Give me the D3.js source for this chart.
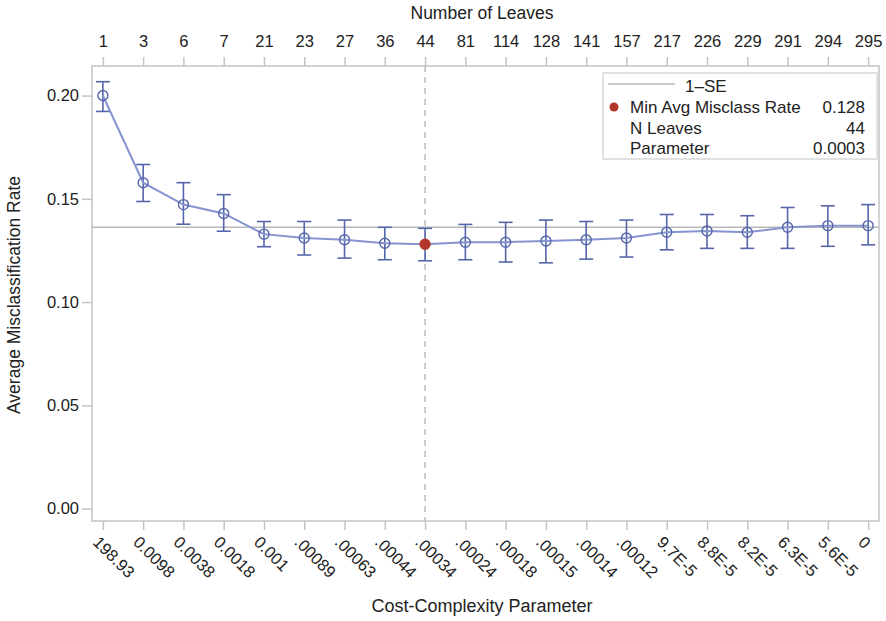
<!DOCTYPE html>
<html>
<head>
<meta charset="utf-8">
<script src="https://cdn.jsdelivr.net/npm/d3@7"></script>
<style>
  body { margin: 0; background: #fff; }
  text { font-family: "Liberation Sans", Arial, sans-serif; fill: #222; }
</style>
</head>
<body>
<div id="chart"></div>
<script>
// chart data
var leaves = ["1","3","6","7","21","23","27","36","44","81","114","128","141","157","217","226","229","291","294","295"];
var params = ["198.93","0.0098","0.0038","0.0018","0.001",".00089",".00063",".00044",".00034",".00024",".00018",".00015",".00014",".00012","9.7E-5","8.8E-5","8.2E-5","6.3E-5","5.6E-5","0"];
var rate  = [0.200,0.1578,0.1472,0.1429,0.1329,0.1310,0.1302,0.1285,0.1280,0.1290,0.1290,0.1296,0.1302,0.1310,0.1338,0.1344,0.1338,0.1362,0.1370,0.1370];
var upper = [0.2067,0.1666,0.1578,0.1520,0.1390,0.1390,0.1397,0.1362,0.1357,0.1376,0.1386,0.1397,0.1390,0.1397,0.1424,0.1424,0.1418,0.1458,0.1466,0.1472];
var lower = [0.1923,0.1487,0.1377,0.1343,0.1268,0.1228,0.1213,0.1205,0.1200,0.1205,0.1194,0.1190,0.1208,0.1218,0.1253,0.1260,0.1260,0.1260,0.1270,0.1277];
var yTicks = [0, 0.05, 0.10, 0.15, 0.20];
var oneSE = 0.1362;
var minIndex = 8;
var legendRows = [["Min Avg Misclass Rate","0.128"],["N Leaves","44"],["Parameter","0.0003"]];

var svgWidth = 886, svgHeight = 621;
var margin = {top: 66, right: 7, bottom: 100, left: 92};
var width = svgWidth - margin.left - margin.right;
var height = svgHeight - margin.top - margin.bottom;

var svg = d3.select("#chart").append("svg")
  .attr("width", svgWidth)
  .attr("height", svgHeight);

var g = svg.append("g")
  .attr("transform", `translate(${margin.left}, ${margin.top})`);

var idx = d3.range(leaves.length);

var x = d3.scalePoint()
  .domain(idx)
  .range([0, width])
  .padding(0.27);

var y = d3.scaleLinear()
  .domain([-0.006, 0.2143])
  .range([height, 0]);

var gridColor = "#c4c4c4";
var blue = "#5566aa";
var tickFont = "16.5px";

// frame
g.append("rect")
  .attr("width", width).attr("height", height)
  .attr("fill", "none").attr("stroke", gridColor).attr("stroke-width", 1.5);

// left axis
var leftAxis = g.append("g")
  .call(d3.axisLeft(y).tickValues(yTicks).tickFormat(d3.format(".2f")).tickSize(10).tickPadding(3));
leftAxis.select(".domain").remove();
leftAxis.selectAll("line").attr("stroke", gridColor).attr("stroke-width", 1.5);
leftAxis.selectAll("text").attr("font-size", tickFont).attr("fill", "#222");

// top axis (number of leaves)
var topAxis = g.append("g")
  .call(d3.axisTop(x).tickFormat(i => leaves[i]).tickSize(9).tickPadding(10));
topAxis.select(".domain").remove();
topAxis.selectAll("line").attr("stroke", gridColor).attr("stroke-width", 1.5);
topAxis.selectAll("text").attr("font-size", tickFont).attr("fill", "#222");

// bottom axis (cost-complexity parameter)
var bottomAxis = g.append("g")
  .attr("transform", `translate(0, ${height})`)
  .call(d3.axisBottom(x).tickFormat(i => params[i]).tickSize(9).tickPadding(0));
bottomAxis.select(".domain").remove();
bottomAxis.selectAll("line").attr("stroke", gridColor).attr("stroke-width", 1.5);
bottomAxis.selectAll("text")
  .attr("font-size", tickFont).attr("fill", "#222")
  .attr("text-anchor", "start")
  .attr("dy", "0")
  .attr("transform", "translate(-5, 16) rotate(45)");

// axis titles
svg.append("text")
  .attr("x", 482).attr("y", 19)
  .attr("text-anchor", "middle").attr("font-size", "17.5px")
  .text("Number of Leaves");

svg.append("text")
  .attr("x", 482).attr("y", 612)
  .attr("text-anchor", "middle").attr("font-size", "18px")
  .text("Cost-Complexity Parameter");

svg.append("text")
  .attr("transform", "translate(20, 295) rotate(-90)")
  .attr("text-anchor", "middle").attr("font-size", "17.5px")
  .text("Average Misclassification Rate");

// 1-SE reference line
g.append("line")
  .attr("x1", 0).attr("x2", width)
  .attr("y1", y(oneSE)).attr("y2", y(oneSE))
  .attr("stroke", "#b8b8b8").attr("stroke-width", 1.5);

// dashed line at min
g.append("line")
  .attr("x1", x(minIndex)).attr("x2", x(minIndex))
  .attr("y1", 0).attr("y2", height)
  .attr("stroke", "#bbbbbb").attr("stroke-width", 1.5)
  .attr("stroke-dasharray", "6,5");

// error bars
var bars = g.selectAll(".err").data(idx).enter().append("g")
  .attr("stroke", blue).attr("stroke-width", 1.6);
bars.append("line")
  .attr("x1", d => x(d)).attr("x2", d => x(d))
  .attr("y1", d => y(upper[d])).attr("y2", d => y(lower[d]));
bars.append("line")
  .attr("x1", d => x(d) - 7).attr("x2", d => x(d) + 7)
  .attr("y1", d => y(upper[d])).attr("y2", d => y(upper[d]));
bars.append("line")
  .attr("x1", d => x(d) - 7).attr("x2", d => x(d) + 7)
  .attr("y1", d => y(lower[d])).attr("y2", d => y(lower[d]));

// connecting line
var line = d3.line()
  .x(d => x(d))
  .y(d => y(rate[d]));

g.append("path")
  .datum(idx)
  .attr("fill", "none")
  .attr("stroke", "#8594d0")
  .attr("stroke-width", 2)
  .attr("d", line);

// markers
g.selectAll(".pt").data(idx).enter().append("circle")
  .attr("cx", d => x(d))
  .attr("cy", d => y(rate[d]))
  .attr("r", 5)
  .attr("fill", d => d === minIndex ? "#b3362b" : "none")
  .attr("stroke", d => d === minIndex ? "#b3362b" : blue)
  .attr("stroke-width", 1.4);

// legend
var lg = svg.append("g").attr("transform", "translate(603, 73)");
lg.append("rect")
  .attr("width", 274).attr("height", 86)
  .attr("fill", "#fff").attr("stroke", "#d8d8d8").attr("stroke-width", 1.5);
lg.append("line")
  .attr("x1", 5).attr("x2", 72).attr("y1", 11).attr("y2", 11)
  .attr("stroke", "#b8b8b8").attr("stroke-width", 1.5);
lg.append("text")
  .attr("x", 82).attr("y", 19).attr("font-size", "17px")
  .text("1\u2013SE");
lg.append("circle")
  .attr("cx", 11).attr("cy", 34).attr("r", 4.5)
  .attr("fill", "#b3362b");
lg.selectAll(".lbl").data(legendRows).enter().append("text")
  .attr("x", 27).attr("y", (d, i) => 40 + i * 20.5)
  .attr("font-size", "17px")
  .text(d => d[0]);
lg.selectAll(".val").data(legendRows).enter().append("text")
  .attr("x", 262).attr("y", (d, i) => 40 + i * 20.5)
  .attr("text-anchor", "end")
  .attr("font-size", "17px")
  .text(d => d[1]);
</script>
</body>
</html>
